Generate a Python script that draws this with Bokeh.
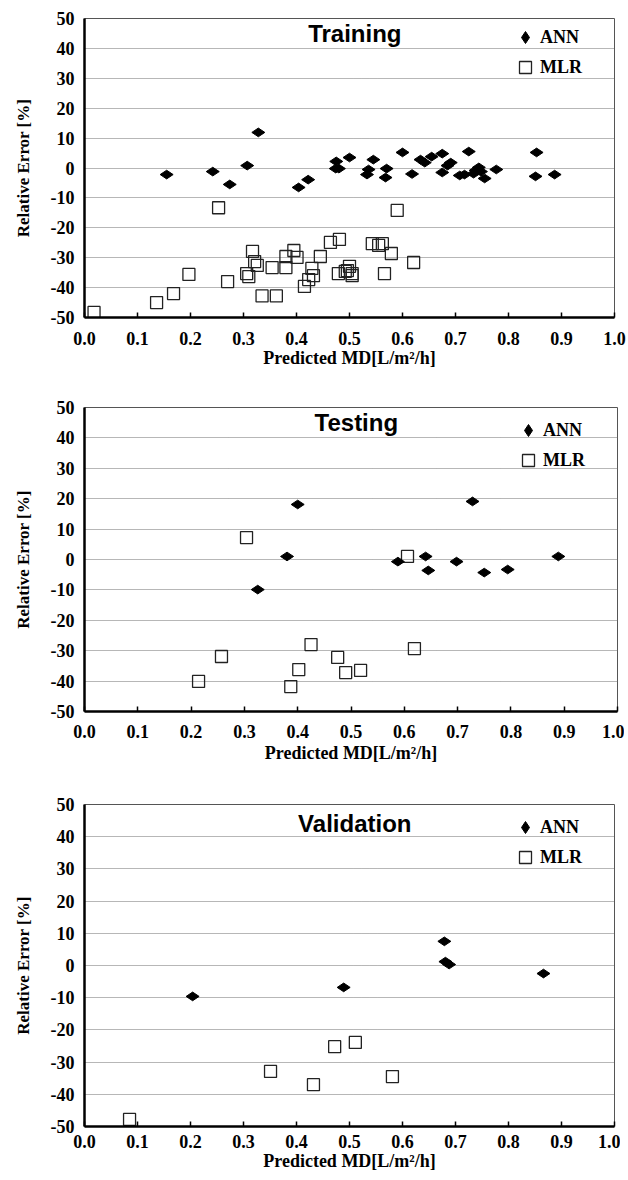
import numpy as np
from bokeh.plotting import figure
from bokeh.layouts import column
from bokeh.models import Range1d, FixedTicker, PrintfTickFormatter, Label, Legend, LegendItem
from bokeh.embed import file_html
from bokeh.resources import INLINE

# ---------------- data ----------------
panel_titles = ["Training", "Testing", "Validation"]
series_names = ["ANN", "MLR"]
x_label = "Predicted MD[L/m\u00b2/h]"
y_label = "Relative Error [%]"
x_ticks = [0.0, 0.1, 0.2, 0.3, 0.4, 0.5, 0.6, 0.7, 0.8, 0.9, 1.0]
y_ticks = [-50, -40, -30, -20, -10, 0, 10, 20, 30, 40, 50]

train_ann_x = [0.155, 0.242, 0.274, 0.307, 0.328, 0.404, 0.422, 0.474, 0.475, 0.480, 0.500, 0.533,
               0.536, 0.545, 0.568, 0.570, 0.600, 0.618, 0.634, 0.642, 0.655, 0.675, 0.675, 0.685,
               0.691, 0.708, 0.717, 0.725, 0.734, 0.738, 0.744, 0.748, 0.755, 0.777, 0.851, 0.853, 0.887]
train_ann_y = [-2.2, -1.2, -5.5, 0.8, 11.9, -6.5, -3.9, -0.2, 2.2, -0.2, 3.5, -2.2,
               -0.5, 2.8, -3.2, -0.2, 5.2, -2.0, 2.8, 1.8, 3.8, 4.8, -1.5, 0.8,
               1.8, -2.5, -2.2, 5.5, -1.9, -0.8, 0.2, -1.2, -3.5, -0.5, -2.8, 5.2, -2.2]
train_mlr_x = [0.018, 0.136, 0.168, 0.197, 0.253, 0.270, 0.306, 0.310, 0.317, 0.321, 0.326, 0.335,
               0.354, 0.362, 0.380, 0.380, 0.395, 0.401, 0.415, 0.423, 0.429, 0.432, 0.445, 0.464,
               0.481, 0.479, 0.492, 0.496, 0.500, 0.505, 0.505, 0.543, 0.555, 0.562, 0.566, 0.579,
               0.590, 0.621]
train_mlr_y = [-48.3, -45.0, -42.0, -35.6, -13.3, -38.0, -35.3, -36.3, -27.9, -31.3, -32.6, -42.8,
               -33.3, -42.8, -29.6, -33.3, -27.6, -29.9, -39.6, -37.3, -33.6, -36.0, -29.6, -24.9,
               -23.9, -35.3, -34.6, -34.3, -32.9, -35.3, -36.0, -25.3, -25.9, -25.3, -35.3, -28.6,
               -14.2, -31.6]

test_ann_x = [0.325, 0.380, 0.400, 0.588, 0.640, 0.645, 0.698, 0.728, 0.750, 0.794, 0.889]
test_ann_y = [-9.9, 1.0, 18.1, -0.7, 1.0, -3.6, -0.7, 19.1, -4.3, -3.3, 1.0]
test_mlr_x = [0.214, 0.257, 0.304, 0.387, 0.402, 0.425, 0.475, 0.490, 0.518, 0.606, 0.619]
test_mlr_y = [-40.1, -31.9, 7.2, -41.8, -36.2, -28.0, -32.2, -37.2, -36.5, 1.0, -29.3]

valid_ann_x = [0.204, 0.489, 0.679, 0.681, 0.688, 0.866]
valid_ann_y = [-9.6, -6.8, 7.5, 1.2, 0.3, -2.5]
valid_mlr_x = [0.085, 0.351, 0.432, 0.472, 0.511, 0.581]
valid_mlr_y = [-47.8, -32.9, -37.0, -25.2, -23.9, -34.5]

X_MIN, X_MAX = 0.0, 1.0
Y_MIN, Y_MAX = -50, 50

# ---------------- layout (pixels) ----------------
layouts = [
    dict(fw=530, fh=299, bl=84, br=12, bt=18, bb=80, title_off=15, leg_off=4, tick_so=14, lab_so=0),
    dict(fw=533, fh=304, bl=79, br=12, bt=10, bb=83, title_off=15, leg_off=8, tick_so=13, lab_so=2),
    dict(fw=530, fh=322, bl=78, br=12, bt=10, bb=44, title_off=19, leg_off=8, tick_so=8, lab_so=0),
]

SERIF = "Liberation Serif"
SANS = "Liberation Sans"


def make_panel(title, ax, ay, mx, my, lay):
    p = figure(frame_width=lay["fw"], frame_height=lay["fh"],
               min_border_left=lay["bl"], min_border_right=lay["br"],
               min_border_top=lay["bt"], min_border_bottom=lay["bb"],
               x_range=Range1d(X_MIN, X_MAX), y_range=Range1d(Y_MIN, Y_MAX),
               output_backend="svg", toolbar_location=None, tools="")
    p.background_fill_color = "white"
    p.border_fill_color = "white"
    p.outline_line_color = "#555555"
    p.outline_line_width = 1

    # grid
    p.xgrid.visible = False
    p.ygrid.ticker = FixedTicker(ticks=y_ticks)
    p.ygrid.grid_line_color = "#6e6e6e"
    p.ygrid.grid_line_dash = "1 1"
    p.ygrid.grid_line_width = 1

    # x axis
    p.xaxis.ticker = FixedTicker(ticks=x_ticks)
    p.xaxis.formatter = PrintfTickFormatter(format="%.1f")
    p.xaxis.major_tick_in = 5
    p.xaxis.major_tick_out = 0
    p.xaxis.major_tick_line_width = 1.5
    p.xaxis.minor_tick_line_color = None
    p.xaxis.axis_line_width = 2.5
    p.xaxis.axis_line_color = "black"
    p.xaxis.major_label_standoff = lay["tick_so"]
    p.xaxis.axis_label = x_label
    p.xaxis.axis_label_standoff = lay["lab_so"]

    # y axis
    p.yaxis.ticker = FixedTicker(ticks=y_ticks)
    p.yaxis.formatter = PrintfTickFormatter(format="%d")
    p.yaxis.major_tick_in = 0
    p.yaxis.major_tick_out = 0
    p.yaxis.minor_tick_line_color = None
    p.yaxis.axis_line_width = 2.5
    p.yaxis.axis_line_color = "black"
    p.yaxis.major_label_standoff = 10
    p.yaxis.axis_label = y_label
    p.yaxis.axis_label_standoff = 15

    for ax_ in (p.xaxis, p.yaxis):
        ax_.major_label_text_font = SERIF
        ax_.major_label_text_font_style = "bold"
        ax_.major_label_text_font_size = "18px"
        ax_.major_label_text_color = "black"
        ax_.axis_label_text_font = SERIF
        ax_.axis_label_text_font_style = "bold"
        ax_.axis_label_text_font_size = "17px"
        ax_.axis_label_text_color = "black"
    p.xaxis.axis_label_text_font_size = "18px"

    mlr = p.scatter(x=mx, y=my, marker="square", size=12, fill_color=None,
                    line_color="#222222", line_width=1.3)
    ann = p.scatter(x=ax, y=ay, marker="diamond", size=13, angle=np.pi / 2,
                    fill_color="black", line_color="black")

    # panel title inside the frame
    ty = Y_MAX - lay["title_off"] / lay["fh"] * (Y_MAX - Y_MIN)
    tx = X_MIN + 0.51 * (X_MAX - X_MIN)
    p.add_layout(Label(x=tx, y=ty, text=title, text_align="center", text_baseline="middle",
                       text_font=SANS, text_font_style="bold", text_font_size="24px",
                       text_color="black"))

    legend = Legend(items=[LegendItem(label=series_names[0], renderers=[ann]),
                           LegendItem(label=series_names[1], renderers=[mlr])],
                    location=(lay["fw"] - 104, lay["fh"] - lay["leg_off"] - 60),
                    glyph_width=30, glyph_height=30, label_height=30, spacing=0,
                    padding=0, margin=0, label_standoff=0,
                    border_line_color=None, background_fill_alpha=0,
                    label_text_font=SERIF, label_text_font_style="bold",
                    label_text_font_size="18px", label_text_color="black")
    p.add_layout(legend)
    return p


panels = [
    make_panel(panel_titles[0], train_ann_x, train_ann_y, train_mlr_x, train_mlr_y, layouts[0]),
    make_panel(panel_titles[1], test_ann_x, test_ann_y, test_mlr_x, test_mlr_y, layouts[1]),
    make_panel(panel_titles[2], valid_ann_x, valid_ann_y, valid_mlr_x, valid_mlr_y, layouts[2]),
]

page = column(*panels, spacing=0)
open("out.html", "w").write(file_html(page, INLINE))
